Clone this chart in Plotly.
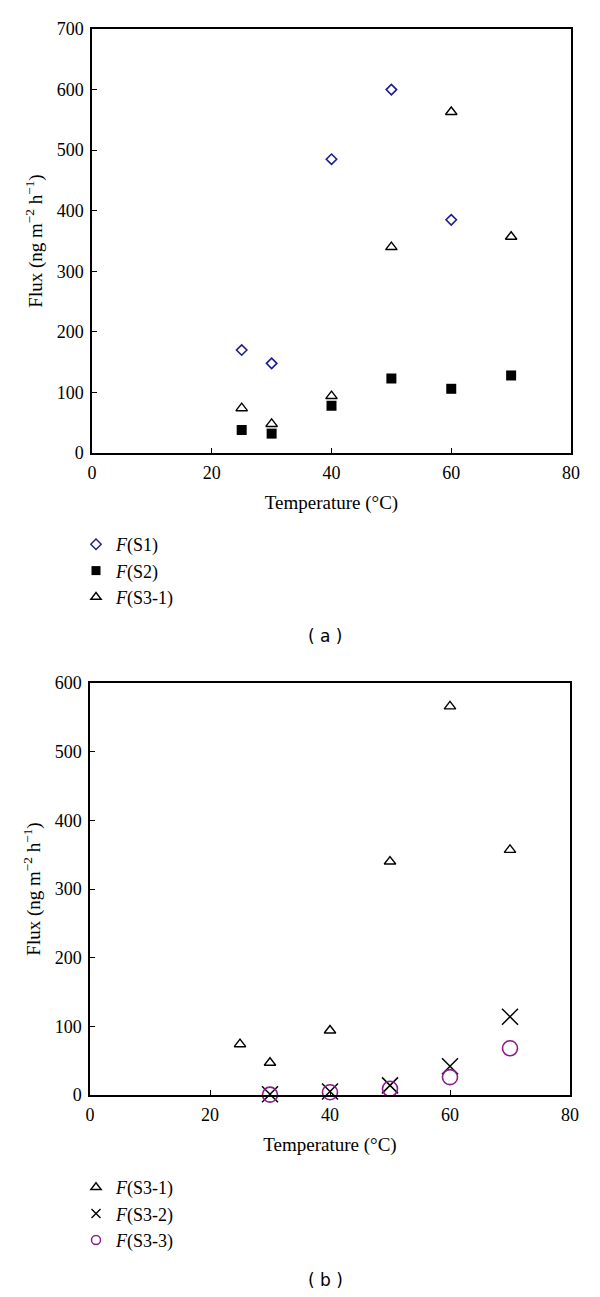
import plotly.graph_objects as go

# ---- data ----
temps_a = [25, 30, 40, 50, 60, 70]
s1_temps = [25, 30, 40, 50, 60]
s1_flux = [170, 148, 485, 600, 385]
s2_flux = [38, 32, 78, 123, 106, 128]
s31_flux = [74, 48, 94, 340, 563, 357]

temps_b = [25, 30, 40, 50, 60, 70]
s31b_flux = [74, 47, 94, 340, 566, 357]
temps_b2 = [30, 40, 50, 60, 70]
s32_flux = [1, 5, 14, 42, 114]
s33_flux = [0.5, 4, 9, 26, 68]

# page body has an 8px margin; figure sized to fit inside the window
OFF = 8
W = 600.0 - OFF
H = 1297.0 - OFF

def fx(px):
    return (px - OFF) / W

def fy(py):
    return (H - (py - OFF)) / H

def dom_y(top, bottom):
    return [fy(bottom), fy(top)]

serif = "Liberation Serif"
NAVY = "#1c1c8a"
PURPLE = "#8b1a8b"
fig = go.Figure()

# data traces
fig.add_trace(go.Scatter(x=s1_temps, y=s1_flux, mode="markers", name="<i>F</i>(S1)", showlegend=False,
                         marker=dict(symbol="diamond-open", size=8, color=NAVY, line=dict(width=1.6)),
                         xaxis="x", yaxis="y", cliponaxis=False))
fig.add_trace(go.Scatter(x=temps_a, y=s2_flux, mode="markers", name="<i>F</i>(S2)", showlegend=False,
                         marker=dict(symbol="square", size=10, color="black"),
                         xaxis="x", yaxis="y", cliponaxis=False))
fig.add_trace(go.Scatter(x=temps_a, y=s31_flux, mode="markers", name="<i>F</i>(S3-1)", showlegend=False,
                         marker=dict(symbol="triangle-up-open", size=10, color="black", line=dict(width=1.4)),
                         xaxis="x", yaxis="y", cliponaxis=False))

fig.add_trace(go.Scatter(x=temps_b, y=s31b_flux, mode="markers", name="<i>F</i>(S3-1)", showlegend=False,
                         marker=dict(symbol="triangle-up-open", size=10, color="black", line=dict(width=1.4)),
                         xaxis="x2", yaxis="y2", cliponaxis=False))
fig.add_trace(go.Scatter(x=temps_b2, y=s32_flux, mode="markers", name="<i>F</i>(S3-2)", showlegend=False,
                         marker=dict(symbol="x-thin-open", size=16, color="black", line=dict(width=1.5)),
                         xaxis="x2", yaxis="y2", cliponaxis=False))
fig.add_trace(go.Scatter(x=temps_b2, y=s33_flux, mode="markers", name="<i>F</i>(S3-3)", showlegend=False,
                         marker=dict(symbol="circle-open", size=15, color=PURPLE, line=dict(width=1.6)),
                         xaxis="x2", yaxis="y2", cliponaxis=False))

# legend entries
def leg(name, symbol, size, color, legend, xa, ya, lw=1.4):
    fig.add_trace(go.Scatter(x=[None], y=[None], mode="markers", name=name, legend=legend,
                             marker=dict(symbol=symbol, size=size, color=color, line=dict(width=lw, color=color)),
                             xaxis=xa, yaxis=ya, hoverinfo="skip"))

leg("<i>F</i>(S1)", "diamond-open", 8, NAVY, "legend", "x", "y")
leg("<i>F</i>(S2)", "square", 9, "black", "legend", "x", "y", lw=0)
leg("<i>F</i>(S3-1)", "triangle-up-open", 9, "black", "legend", "x", "y")
leg("<i>F</i>(S3-1)", "triangle-up-open", 9, "black", "legend2", "x2", "y2")
leg("<i>F</i>(S3-2)", "x-thin-open", 9, "black", "legend2", "x2", "y2")
leg("<i>F</i>(S3-3)", "circle-open", 9, PURPLE, "legend2", "x2", "y2")

axis_common = dict(showline=True, linecolor="black", linewidth=1.5, mirror=True,
                   ticks="inside", ticklen=5, tickcolor="black", tickwidth=1.2,
                   showgrid=False, zeroline=False, automargin=False,
                   ticklabelstandoff=3,
                   tickfont=dict(family=serif, size=18, color="black"))

title_font = dict(family=serif, size=19, color="black")
ytitle = "Flux (ng m<sup>−2</sup> h<sup>−1</sup>)"

fig.update_layout(
    width=W, height=H,
    margin=dict(l=0, r=0, t=0, b=0),
    plot_bgcolor="white", paper_bgcolor="white",
    xaxis=dict(domain=[fx(92), fx(571)], range=[0, 80], tickvals=[0, 20, 40, 60, 80],
               anchor="y", title=dict(text="Temperature (°C)", font=title_font, standoff=13),
               **axis_common),
    yaxis=dict(domain=dom_y(29, 453), range=[0, 700], tickvals=list(range(0, 701, 100)),
               anchor="x", title=dict(text=ytitle, font=title_font, standoff=9),
               **axis_common),
    xaxis2=dict(domain=[fx(90), fx(570)], range=[0, 80], tickvals=[0, 20, 40, 60, 80],
                anchor="y2", title=dict(text="Temperature (°C)", font=title_font, standoff=13),
                **axis_common),
    yaxis2=dict(domain=dom_y(683, 1095), range=[0, 600], tickvals=list(range(0, 601, 100)),
                anchor="x2", title=dict(text=ytitle, font=title_font, standoff=9),
                **axis_common),
    legend=dict(x=fx(76), y=fy(526), xanchor="left", yanchor="top",
                font=dict(family=serif, size=18, color="black"),
                bgcolor="rgba(0,0,0,0)", tracegroupgap=0),
    legend2=dict(x=fx(76), y=fy(1169), xanchor="left", yanchor="top",
                 font=dict(family=serif, size=18, color="black"),
                 bgcolor="rgba(0,0,0,0)", tracegroupgap=0),
    annotations=[
        dict(text="( a )", x=fx(325), y=fy(636), xref="paper", yref="paper",
             xanchor="center", yanchor="middle",
             showarrow=False, font=dict(family="DejaVu Sans", size=17, color="black")),
        dict(text="( b )", x=fx(325), y=fy(1280), xref="paper", yref="paper",
             xanchor="center", yanchor="middle",
             showarrow=False, font=dict(family="DejaVu Sans", size=17, color="black")),
    ],
)

fig.write_html("out.html")
